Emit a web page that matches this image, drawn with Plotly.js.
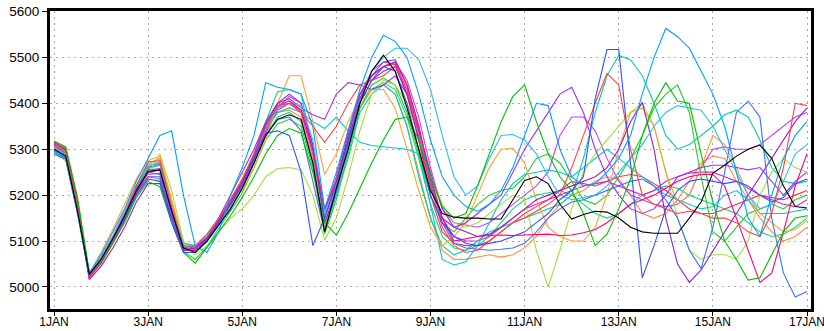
<!DOCTYPE html>
<html>
<head>
<meta charset="utf-8">
<script src="https://cdn.plot.ly/plotly-3.0.1.min.js"></script>
<style>html,body{margin:0;padding:0;background:#fff;}#chart{width:824px;height:331px;}</style>
</head>
<body>
<div id="chart"></div>
<script>
// forecast time in days after 1 JAN 00Z (6-hourly)
const days = [0,0.25,0.5,0.75,1,1.25,1.5,1.75,2,2.25,2.5,2.75,3,3.25,3.5,3.75,4,4.25,4.5,4.75,5,5.25,5.5,5.75,6,6.25,6.5,6.75,7,7.25,7.5,7.75,8,8.25,8.5,8.75,9,9.25,9.5,9.75,10,10.25,10.5,10.75,11,11.25,11.5,11.75,12,12.25,12.5,12.75,13,13.25,13.5,13.75,14,14.25,14.5,14.75,15,15.25,15.5,15.75,16];
const tickDays = [0,2,4,6,8,10,12,14,16];
const tickLabels = ['1JAN','3JAN','5JAN','7JAN','9JAN','11JAN','13JAN','15JAN','17JAN'];
const yTicks = [5000,5100,5200,5300,5400,5500,5600];

const control = [5300,5285,5165,5028,5060,5105,5155,5210,5252,5255,5165,5085,5075,5100,5135,5170,5215,5270,5330,5365,5375,5365,5270,5120,5215,5300,5400,5470,5505,5470,5390,5300,5210,5160,
 5152,5150,5150,5148,5148,5190,5232,5240,5225,5180,5148,5158,5165,5163,5150,5130,5120,5117,5117,5117,5150,5185,5248,5265,5285,5300,5309,5280,5220,5175,5172];
const green = [5318,5305,5195,5032,5055,5095,5140,5195,5230,5218,5140,5075,5052,5085,5120,5155,5195,5240,5290,5330,5345,5335,5250,5140,5113,5160,5215,5270,5320,5365,5370,5320,5240,5175,
 5150,5160,5220,5290,5360,5415,5440,5360,5290,5240,5210,5160,5090,5115,5170,5235,5330,5400,5445,5405,5400,5290,5185,5100,5060,5015,5020,5070,5120,5150,5155];
const deepSky = [5295,5280,5160,5030,5070,5120,5170,5230,5280,5330,5340,5200,5090,5075,5120,5200,5260,5330,5445,5435,5430,5420,5350,5170,5250,5340,5430,5500,5548,5535,5500,5420,5320,5240,
 5200,5175,5165,5180,5210,5260,5330,5400,5395,5300,5240,5220,5225,5250,5280,5330,5420,5500,5563,5545,5520,5470,5420,5350,5250,5150,5110,5200,5280,5330,5360];
const teal = [5300,5290,5175,5025,5060,5105,5155,5215,5262,5270,5170,5090,5080,5100,5140,5180,5225,5290,5360,5425,5430,5420,5300,5140,5200,5280,5380,5420,5440,5420,5350,5240,5150,5090,
 5070,5080,5100,5120,5130,5140,5150,5160,5170,5180,5200,5280,5380,5460,5504,5495,5460,5400,5330,5300,5310,5330,5350,5375,5385,5370,5320,5260,5230,5225,5230];
const red = [5310,5295,5180,5022,5055,5100,5155,5220,5272,5275,5175,5085,5090,5115,5150,5190,5235,5290,5350,5395,5400,5380,5350,5315,5350,5400,5440,5450,5460,5480,5430,5330,5220,5130,
 5090,5075,5080,5100,5120,5140,5150,5165,5180,5200,5260,5330,5400,5465,5440,5300,5200,5180,5170,5160,5165,5160,5150,5150,5140,5120,5110,5160,5260,5400,5395];
const purple = [5295,5280,5165,5030,5058,5100,5150,5205,5240,5240,5150,5080,5085,5110,5150,5200,5250,5300,5360,5400,5410,5390,5375,5365,5420,5445,5440,5430,5440,5460,5420,5340,5250,5170,
 5130,5140,5160,5180,5200,5250,5300,5340,5380,5420,5435,5380,5300,5240,5200,5170,5160,5170,5200,5240,5250,5260,5265,5265,5260,5255,5260,5230,5200,5230,5250];
const orange = [5300,5285,5175,5030,5075,5125,5180,5235,5275,5285,5190,5095,5090,5110,5150,5190,5210,5260,5320,5400,5460,5460,5360,5245,5290,5360,5410,5430,5430,5390,5300,5210,5130,5090,
 5110,5140,5200,5260,5300,5302,5270,5190,5130,5110,5100,5100,5130,5200,5300,5380,5390,5350,5250,5180,5200,5260,5330,5310,5260,5200,5160,5140,5120,5125,5145];
const yellowGreen = [5290,5275,5160,5020,5050,5095,5145,5200,5245,5290,5210,5100,5070,5090,5120,5150,5170,5200,5240,5258,5260,5255,5200,5102,5150,5240,5340,5420,5450,5440,5400,5330,5250,5180,
 5140,5130,5140,5160,5180,5200,5190,5080,5000,5080,5170,5250,5290,5320,5350,5380,5400,5350,5250,5150,5080,5060,5070,5070,5060,5100,5200,5250,5280,5260,5250];
const deepPink = [5315,5300,5185,5020,5052,5095,5145,5205,5250,5255,5165,5080,5080,5105,5145,5185,5230,5285,5350,5395,5405,5385,5300,5170,5230,5330,5420,5460,5480,5490,5440,5350,5240,5150,
 5100,5105,5110,5112,5113,5112,5113,5115,5115,5112,5113,5118,5125,5140,5160,5180,5190,5200,5215,5230,5240,5245,5245,5220,5150,5080,5010,5030,5120,5220,5290];
const magenta = [5312,5298,5182,5024,5058,5102,5150,5210,5255,5258,5160,5085,5080,5100,5135,5170,5215,5270,5335,5385,5400,5380,5290,5150,5220,5320,5410,5470,5490,5485,5430,5340,5230,5150,
 5110,5100,5100,5110,5130,5150,5170,5180,5190,5200,5210,5220,5225,5230,5220,5210,5200,5210,5230,5240,5248,5250,5250,5240,5230,5215,5200,5190,5180,5175,5190];
const blue = [5290,5278,5160,5025,5060,5105,5150,5200,5235,5230,5140,5075,5075,5100,5140,5180,5225,5280,5335,5340,5330,5250,5090,5150,5230,5320,5400,5450,5480,5470,5400,5300,5200,5140,
 5110,5095,5090,5095,5100,5110,5120,5140,5160,5190,5210,5240,5410,5517,5517,5270,5020,5090,5170,5210,5230,5235,5230,5225,5230,5220,5200,5185,5195,5225,5235];
const blue2 = [5295,5282,5168,5028,5062,5108,5158,5212,5250,5245,5155,5080,5080,5102,5140,5178,5222,5275,5330,5365,5370,5340,5230,5120,5210,5310,5410,5460,5490,5495,5440,5350,5230,5140,
 5095,5085,5082,5080,5082,5085,5095,5120,5150,5170,5185,5190,5200,5210,5220,5230,5235,5220,5190,5150,5080,5040,5130,5250,5380,5405,5370,5150,5030,4978,4990];
const cyan = [5305,5290,5172,5026,5060,5102,5152,5212,5258,5265,5170,5090,5088,5108,5145,5180,5228,5285,5345,5380,5390,5380,5360,5345,5370,5340,5315,5308,5305,5302,5300,5290,5180,5060,
 5048,5055,5090,5140,5190,5225,5245,5250,5255,5250,5240,5260,5280,5300,5280,5260,5240,5220,5200,5190,5180,5170,5175,5200,5210,5190,5160,5160,5160,5165,5170];
const lime = [5315,5302,5188,5030,5056,5098,5145,5200,5240,5235,5150,5078,5060,5088,5128,5165,5205,5260,5320,5355,5365,5350,5260,5115,5190,5290,5390,5440,5455,5440,5380,5290,5200,5140,
 5120,5150,5180,5200,5210,5215,5240,5280,5290,5270,5230,5190,5180,5200,5240,5280,5330,5390,5420,5440,5380,5240,5120,5100,5130,5160,5170,5180,5170,5190,5200];
const orange2 = [5302,5288,5175,5028,5065,5112,5165,5222,5268,5280,5185,5092,5088,5108,5148,5190,5235,5285,5345,5380,5385,5370,5280,5130,5210,5300,5390,5430,5440,5420,5350,5250,5150,5080,
 5060,5060,5065,5070,5065,5070,5085,5110,5150,5180,5200,5210,5230,5240,5235,5200,5160,5150,5160,5190,5230,5270,5285,5280,5230,5190,5150,5120,5100,5110,5130];
const red2 = [5308,5292,5178,5024,5056,5102,5152,5212,5260,5268,5170,5088,5085,5105,5142,5178,5222,5278,5340,5390,5400,5385,5300,5165,5240,5340,5420,5460,5480,5485,5420,5320,5200,5120,
 5095,5090,5090,5100,5120,5140,5160,5175,5190,5210,5230,5225,5220,5230,5240,5245,5240,5225,5210,5190,5170,5160,5160,5170,5180,5190,5200,5195,5190,5200,5210];
const purple2 = [5298,5285,5170,5016,5045,5085,5130,5185,5225,5225,5150,5080,5085,5108,5145,5185,5230,5290,5355,5400,5420,5400,5310,5140,5210,5310,5400,5450,5470,5480,5420,5320,5220,5150,
 5130,5120,5110,5115,5130,5150,5170,5190,5200,5210,5220,5230,5240,5260,5300,5360,5402,5300,5150,5050,5010,5037,5080,5120,5160,5200,5240,5280,5320,5360,5390];
const violet = [5305,5292,5175,5022,5055,5098,5148,5205,5245,5248,5160,5085,5080,5100,5140,5180,5225,5280,5345,5390,5415,5400,5300,5150,5220,5320,5410,5460,5480,5490,5450,5370,5260,5170,
 5140,5135,5130,5140,5160,5180,5200,5220,5250,5330,5370,5370,5340,5280,5230,5200,5190,5180,5175,5180,5200,5260,5300,5305,5300,5300,5310,5330,5350,5370,5380];
const skyBlue = [5298,5285,5168,5030,5065,5110,5162,5220,5265,5272,5175,5095,5090,5110,5148,5185,5230,5285,5345,5390,5400,5395,5320,5160,5230,5330,5420,5470,5500,5520,5520,5495,5430,5330,
 5240,5200,5220,5280,5330,5332,5320,5290,5240,5200,5190,5195,5200,5220,5250,5280,5310,5350,5380,5395,5390,5385,5350,5300,5250,5200,5170,5180,5230,5290,5310];
const springGreen = [5310,5296,5180,5026,5058,5100,5148,5205,5250,5255,5165,5085,5078,5098,5135,5172,5218,5272,5330,5370,5380,5360,5270,5120,5200,5300,5390,5430,5445,5430,5370,5280,5180,5110,
 5085,5080,5090,5110,5140,5170,5190,5200,5205,5210,5200,5180,5160,5150,5160,5180,5200,5210,5220,5215,5200,5190,5180,5170,5160,5140,5120,5110,5115,5130,5150];

const members = [
  {y: springGreen, c: '#10d880'},
  {y: orange2, c: '#ff8c40'},
  {y: red2, c: '#ff3050'},
  {y: magenta, c: '#e020c8'},
  {y: violet, c: '#c040ff'},
  {y: cyan, c: '#00c8d8'},
  {y: lime, c: '#20d020'},
  {y: teal, c: '#00d0a0'},
  {y: yellowGreen, c: '#a0e040'},
  {y: orange, c: '#ffa030'},
  {y: purple, c: '#a030f0'},
  {y: purple2, c: '#9020d0'},
  {y: blue2, c: '#4070ff'},
  {y: skyBlue, c: '#30b8ff'},
  {y: deepPink, c: '#ff0080'},
  {y: red, c: '#ff4040'},
  {y: green, c: '#00c000'},
  {y: blue, c: '#3050ff'},
  {y: deepSky, c: '#00a0ff'},
  {y: control, c: '#000000'}
];

const traces = members.map(m => ({
  x: days, y: m.y, type: 'scatter', mode: 'lines',
  line: {color: m.c, width: 1.1}, hoverinfo: 'skip'
}));

const layout = {
  width: 824, height: 331,
  margin: {l: 50, r: 13, t: 11, b: 22},
  paper_bgcolor: '#ffffff', plot_bgcolor: '#ffffff',
  showlegend: false,
  font: {family: 'Liberation Sans, Arial, sans-serif', color: '#000'},
  xaxis: {
    range: [-0.085, 16.085], tickvals: tickDays, ticktext: tickLabels,
    ticks: 'outside', ticklen: 4, tickwidth: 1, tickcolor: '#000',
    ticklabelstandoff: -4, ticklabeloverflow: 'allow',
    tickfont: {size: 12, color: '#000'},
    showgrid: true, gridcolor: '#a8a8a8', griddash: '2px,4px', gridwidth: 1,
    showline: true, linecolor: '#000', linewidth: 3, mirror: true,
    zeroline: false, fixedrange: true
  },
  yaxis: {
    range: [4952, 5601], tickvals: yTicks,
    ticks: 'outside', ticklen: 5, tickwidth: 1, tickcolor: '#000',
    tickfont: {size: 13.5, color: '#000'},
    showgrid: true, gridcolor: '#a8a8a8', griddash: '2px,4px', gridwidth: 1,
    showline: true, linecolor: '#000', linewidth: 3, mirror: true,
    zeroline: false, fixedrange: true
  },
  hovermode: false
};

Plotly.newPlot('chart', traces, layout, {staticPlot: true, displayModeBar: false});
</script>
</body>
</html>
